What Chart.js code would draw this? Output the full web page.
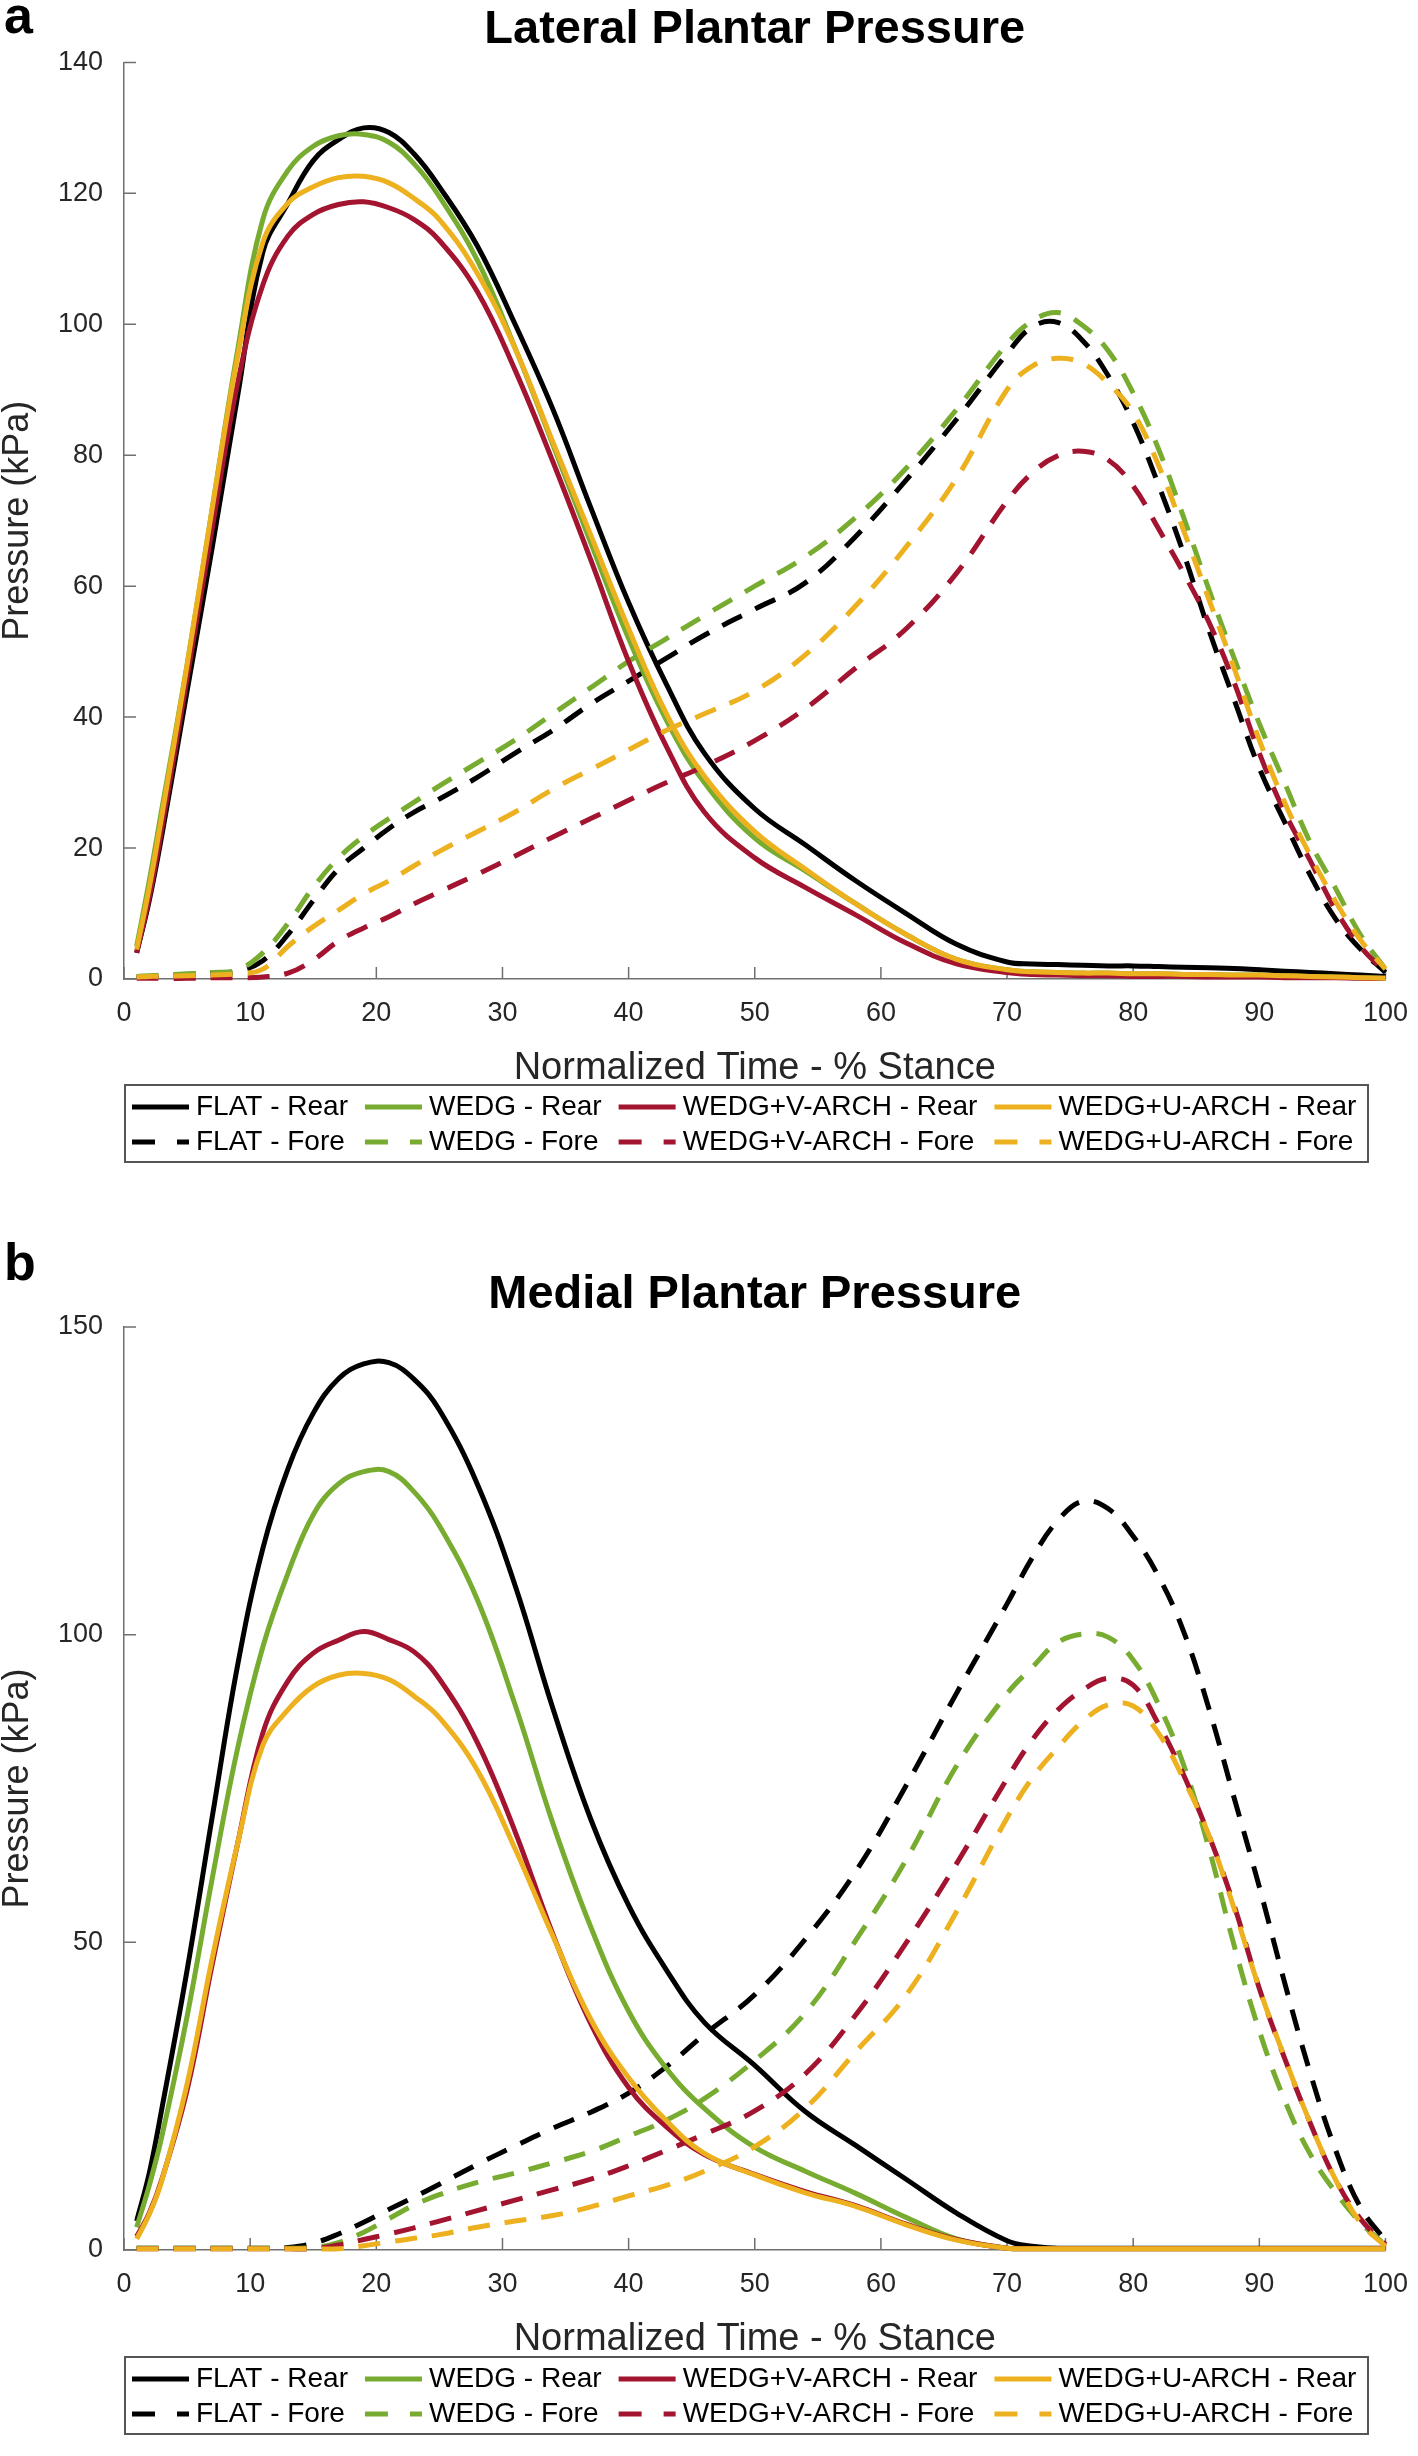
<!DOCTYPE html>
<html>
<head>
<meta charset="utf-8">
<script src="https://cdn.jsdelivr.net/npm/chart.js@4.4.1/dist/chart.umd.min.js"></script>
<style>
  html, body { margin: 0; padding: 0; background: #fff; }
  #page { position: relative; width: 1418px; height: 2456px; }
  .panel { position: absolute; left: 0; width: 1418px; }
  #panelA { top: 0; height: 1215px; }
  #panelB { top: 1215px; height: 1241px; }
</style>
</head>
<body>
<div id="page">
  <div class="panel" id="panelA"><canvas id="lateralChart"></canvas></div>
  <div class="panel" id="panelB"><canvas id="medialChart"></canvas></div>
</div>
<script>
// normalized time (% stance) where the curves were read
const stance = [1, 2, 3, 5, 7, 9, 11, 13, 15, 17, 19, 21, 23, 25, 28, 31, 34, 37, 40, 43, 46,
  50, 54, 58, 62, 66, 70, 72, 74, 76, 78, 80, 82, 84, 86, 88, 90, 92, 94, 96, 98, 100];

const seriesLabels = ['FLAT - Rear', 'WEDG - Rear', 'WEDG+V-ARCH - Rear', 'WEDG+U-ARCH - Rear',
  'FLAT - Fore', 'WEDG - Fore', 'WEDG+V-ARCH - Fore', 'WEDG+U-ARCH - Fore'];
const seriesColors = ['#000000', '#77AC30', '#A2142F', '#EDB120'];

const xTicks = [0, 10, 20, 30, 40, 50, 60, 70, 80, 90, 100];
const lateralYTicks = [0, 20, 40, 60, 80, 100, 120, 140];
const medialYTicks = [0, 50, 100, 150];

// a) lateral plantar pressure (kPa)
const latFlatRear = [4, 12, 22, 44, 66, 89, 111, 118.5, 125, 128.2, 130, 129.3, 126, 121, 112, 100, 87, 72, 57.5, 45, 34.5,
  26, 20.5, 15, 10, 5.3, 2.6, 2.3, 2.2, 2.1, 2.0, 2.0, 1.9, 1.8, 1.7, 1.6, 1.4, 1.2, 1.0, 0.8, 0.6, 0.4];
const latWedgRear = [5, 15, 26, 48, 72, 96, 116, 123.5, 127.2, 128.8, 129, 127.8, 124.5, 119.5, 109.8, 96.4, 81.6, 66.6, 52, 39.5, 30,
  21.5, 16.5, 11.5, 6.8, 3.0, 1.4, 1.1, 1.0, 0.9, 0.9, 0.8, 0.8, 0.7, 0.7, 0.6, 0.6, 0.5, 0.4, 0.3, 0.2, 0.1];
const latVArchRear = [4, 12.5, 23, 46, 69, 91, 106, 113.5, 116.8, 118.3, 118.7, 117.8, 116, 112.8, 105, 93, 79, 64, 48.5, 35.5, 25.5,
  18.5, 14, 9.8, 5.5, 2.3, 1.0, 0.7, 0.6, 0.5, 0.5, 0.4, 0.4, 0.4, 0.3, 0.3, 0.3, 0.2, 0.2, 0.2, 0.1, 0.1];
const latUArchRear = [4.5, 14, 25, 48, 72, 95, 112.5, 118.5, 121, 122.4, 122.6, 121.6, 119.2, 116, 107.8, 96.3, 82, 67.8, 53.5, 40.5, 31,
  22.5, 16.8, 11.5, 6.8, 3.0, 1.4, 1.1, 1.0, 0.9, 0.9, 0.8, 0.8, 0.7, 0.7, 0.6, 0.6, 0.5, 0.4, 0.3, 0.2, 0.1];
const latFlatFore = [0.3, 0.4, 0.5, 0.7, 0.9, 1.2, 2.8, 6.8, 12, 16.8, 20, 23, 25.5, 27.5, 30.8, 34.5, 38, 42, 45.5, 49, 52.5,
  56.5, 60.5, 67.6, 76.2, 85.5, 95.5, 99.6, 100.3, 97.5, 92.2, 85, 75.5, 65, 53.3, 42.7, 32.2, 24, 16, 9.3, 4.6, 1];
const latWedgFore = [0.4, 0.5, 0.6, 0.8, 1.0, 1.4, 4, 8.5, 14, 18.5, 21.8, 24.5, 27, 29.5, 33, 36.5, 40.5, 44.5, 48.5, 52, 55.5,
  60, 64.5, 70.5, 78, 87, 97, 100.5, 101.8, 99.8, 96, 89.5, 81, 70.5, 59.5, 49, 39, 30, 21, 14, 6.8, 1.5];
const latVArchFore = [0.1, 0.1, 0.1, 0.1, 0.2, 0.2, 0.3, 0.9, 2.9, 5.8, 7.8, 9.5, 11.5, 13.3, 16, 18.8, 21.7, 24.5, 27.3, 30, 32.5,
  36.4, 41.3, 47.5, 53.5, 62, 73, 77.3, 79.9, 80.6, 79.3, 75.3, 68.8, 62, 54.5, 45.3, 34.5, 25.5, 18.2, 10.7, 5, 1];
const latUArchFore = [0.3, 0.4, 0.4, 0.5, 0.6, 0.8, 1.5, 5, 8, 10.5, 13, 15, 17.3, 19.5, 22.5, 25.5, 29, 32, 35, 38, 40.5,
  44, 49.5, 57, 66, 76.5, 90, 93.6, 94.8, 94, 91, 86.5, 78.5, 68.5, 58, 47.5, 36.5, 27, 19, 12, 6, 1.5];

// b) medial plantar pressure (kPa)
const medFlatRear = [4.7, 12.5, 23, 45.5, 70.5, 95, 114, 127, 136, 141.6, 144, 144.2, 141.5, 136.5, 124.5, 108, 88, 70, 56, 45.5, 37,
  30, 22.5, 17, 11.5, 6, 1.5, 0.6, 0.3, 0.3, 0.3, 0.3, 0.3, 0.3, 0.3, 0.3, 0.3, 0.3, 0.3, 0.3, 0.3, 0.3];
const medWedgRear = [3.7, 10.5, 18.5, 38, 60.5, 81.5, 98, 110, 119.5, 124.5, 126.5, 126.5, 123.2, 117.7, 105.7, 88.6, 69.3, 52.5, 38.8, 29.5, 23,
  16.7, 12.8, 9.2, 5.3, 1.8, 0.3, 0.2, 0.2, 0.2, 0.2, 0.2, 0.2, 0.2, 0.2, 0.2, 0.2, 0.2, 0.2, 0.2, 0.2, 0.2];
const medVArchRear = [2.2, 6, 11.5, 26, 46.5, 66, 84, 92.5, 97, 99.1, 100.5, 99.2, 97.2, 92.8, 82.5, 68, 51.3, 36.8, 26.4, 20, 15.5,
  12.3, 9.5, 7.2, 4.2, 1.7, 0.3, 0.2, 0.2, 0.2, 0.2, 0.2, 0.2, 0.2, 0.2, 0.2, 0.2, 0.2, 0.2, 0.2, 0.2, 0.2];
const medUArchRear = [1.8, 5.8, 11.3, 27, 47.5, 66, 82, 87.8, 91.6, 93.4, 93.7, 92.7, 90, 86.5, 78, 65.2, 51, 37.5, 28, 21, 15.7,
  12.2, 9.3, 7.1, 4.1, 1.6, 0.3, 0.2, 0.2, 0.2, 0.2, 0.2, 0.2, 0.2, 0.2, 0.2, 0.2, 0.2, 0.2, 0.2, 0.2, 0.2];
const medFlatFore = [0.3, 0.3, 0.3, 0.3, 0.3, 0.3, 0.3, 0.4, 1.1, 2.6, 4.5, 6.6, 8.6, 10.7, 13.9, 16.9, 19.8, 22.4, 25.5, 29.8, 35,
  41.5, 50.5, 61.5, 75.5, 90.5, 105, 112.5, 118.5, 121.7, 120.5, 116, 109.5, 100.5, 88, 73.5, 59, 43.5, 29, 16.5, 7, 1.5];
const medWedgFore = [0.3, 0.3, 0.3, 0.3, 0.3, 0.3, 0.3, 0.3, 0.4, 1.2, 2.9, 5.1, 7.3, 9, 11, 12.5, 14.2, 16, 18.5, 21.1, 24.6,
  30.8, 38.5, 50.3, 63.4, 78.7, 90.4, 94.7, 98.7, 100.1, 99.6, 95.9, 88.7, 78.8, 65.3, 49.5, 35.6, 24.4, 15.7, 9.5, 4.5, 0.8];
const medVArchFore = [0.2, 0.2, 0.2, 0.2, 0.2, 0.2, 0.2, 0.2, 0.2, 0.8, 1.7, 2.6, 3.6, 4.7, 6.4, 8.1, 9.8, 11.5, 13.7, 16.2, 18.8,
  22.6, 28.6, 38.2, 49.9, 62.8, 76.6, 82.9, 87.7, 91, 92.9, 91.8, 85.5, 77.2, 67.4, 56, 42.5, 31.2, 20.8, 11.6, 5.1, 0.9];
const medUArchFore = [0.2, 0.2, 0.2, 0.2, 0.2, 0.2, 0.2, 0.2, 0.2, 0.2, 0.7, 1.3, 1.9, 2.5, 3.7, 4.7, 5.6, 7, 8.8, 10.5, 12.8,
  16.8, 23, 32.2, 41.4, 55, 70.2, 76.7, 81.6, 85.9, 88.6, 88.4, 84, 76.5, 67.4, 55.5, 42.5, 31.3, 20.8, 11.6, 4.5, 0.6];

const FONT = '"Liberation Sans", Arial, Helvetica, sans-serif';
const AXIS_GREY = '#707070';
const TEXT_GREY = '#262626';
Chart.defaults.font.family = FONT;

function buildDatasets(series) {
  return series.map((values, i) => ({
    label: seriesLabels[i],
    data: stance.map((x, k) => ({ x: x, y: values[k] })),
    borderColor: seriesColors[i % 4],
    backgroundColor: seriesColors[i % 4],
    borderWidth: 5,
    borderDash: i < 4 ? [] : [22, 15],
    pointRadius: 0,
    fill: false,
    tension: 0.4,
    clip: 10,
    order: 4 - (i % 4)
  }));
}

// inward tick marks, panel letter and the boxed two-row legend
const matlabLook = {
  id: 'matlabLook',
  beforeDatasetsDraw(chart, args, opts) {
    const { ctx, chartArea, scales } = chart;
    ctx.save();
    ctx.strokeStyle = AXIS_GREY;
    ctx.lineWidth = 1.5;
    ctx.beginPath();
    scales.x.ticks.forEach(t => {
      const px = scales.x.getPixelForValue(t.value);
      ctx.moveTo(px, chartArea.bottom);
      ctx.lineTo(px, chartArea.bottom - 12);
    });
    scales.y.ticks.forEach(t => {
      const py = scales.y.getPixelForValue(t.value);
      ctx.moveTo(chartArea.left, py);
      ctx.lineTo(chartArea.left + 12, py);
    });
    ctx.stroke();
    ctx.restore();
  },
  afterDraw(chart, args, opts) {
    const { ctx, chartArea } = chart;
    ctx.save();
    ctx.fillStyle = '#000';
    ctx.textBaseline = 'alphabetic';
    ctx.font = 'bold 52px ' + FONT;
    ctx.fillText(opts.letter, 4, opts.letterY);

    const top = chartArea.bottom + opts.legendGap;
    const left = 125, right = 1368, h = 77;
    ctx.strokeStyle = '#555';
    ctx.lineWidth = 2;
    ctx.strokeRect(left, top, right - left, h);

    ctx.font = '28px ' + FONT;
    ctx.textBaseline = 'middle';
    const ds = chart.data.datasets;
    let x = left + 7;
    for (let c = 0; c < 4; c++) {
      let w = 0;
      [ds[c], ds[c + 4]].forEach((d, r) => {
        const yy = top + (r === 0 ? 22 : 57);
        ctx.save();
        ctx.strokeStyle = d.borderColor;
        ctx.lineWidth = 5;
        ctx.setLineDash(r === 0 ? [] : [23, 22]);
        ctx.beginPath();
        ctx.moveTo(x, yy);
        ctx.lineTo(x + 57, yy);
        ctx.stroke();
        ctx.restore();
        ctx.fillStyle = '#000';
        ctx.fillText(d.label, x + 64, yy);
        w = Math.max(w, ctx.measureText(d.label).width);
      });
      x += 64 + w + 17;
    }
    ctx.restore();
  }
};

function makeChart(canvasId, cfg) {
  return new Chart(document.getElementById(canvasId).getContext('2d'), {
    type: 'line',
    data: { datasets: buildDatasets(cfg.series) },
    options: {
      responsive: true,
      maintainAspectRatio: false,
      animation: false,
      layout: { padding: { left: 0, right: 30, top: 0, bottom: cfg.bottomPad } },
      plugins: {
        legend: { display: false },
        tooltip: { enabled: false },
        title: {
          display: true,
          text: cfg.title,
          fullSize: false,
          color: '#000',
          font: { size: 47, weight: 'bold', lineHeight: 1.2 },
          padding: { top: cfg.titleTop, bottom: 4 }
        },
        matlabLook: { letter: cfg.letter, letterY: cfg.letterY, legendGap: cfg.legendGap }
      },
      scales: {
        x: {
          type: 'linear',
          min: 0,
          max: 100,
          afterBuildTicks: s => { s.ticks = xTicks.map(v => ({ value: v })); },
          ticks: { color: TEXT_GREY, font: { size: 27 }, padding: 10, maxRotation: 0 },
          grid: { display: false },
          border: { display: true, color: AXIS_GREY, width: 1.5 },
          title: {
            display: true,
            text: 'Normalized Time - % Stance',
            color: TEXT_GREY,
            font: { size: 38, lineHeight: 1.2 },
            padding: { top: 6, bottom: 4 }
          }
        },
        y: {
          type: 'linear',
          min: 0,
          max: cfg.yTicks[cfg.yTicks.length - 1],
          afterBuildTicks: s => { s.ticks = cfg.yTicks.map(v => ({ value: v })); },
          ticks: { color: TEXT_GREY, font: { size: 27 }, padding: 13 },
          grid: { display: false },
          border: { display: true, color: AXIS_GREY, width: 1.5 },
          title: {
            display: true,
            text: 'Pressure (kPa)',
            color: TEXT_GREY,
            font: { size: 36, lineHeight: 1 },
            padding: { top: 0, bottom: 9 }
          }
        }
      }
    },
    plugins: [matlabLook]
  });
}

makeChart('lateralChart', {
  title: 'Lateral Plantar Pressure',
  letter: 'a', letterY: 33,
  titleTop: 2, bottomPad: 120, legendGap: 106,
  yTicks: lateralYTicks,
  series: [latFlatRear, latWedgRear, latVArchRear, latUArchRear, latFlatFore, latWedgFore, latVArchFore, latUArchFore]
});

makeChart('medialChart', {
  title: 'Medial Plantar Pressure',
  letter: 'b', letterY: 65,
  titleTop: 51.6, bottomPad: 90, legendGap: 107,
  yTicks: medialYTicks,
  series: [medFlatRear, medWedgRear, medVArchRear, medUArchRear, medFlatFore, medWedgFore, medVArchFore, medUArchFore]
});
</script>
</body>
</html>
